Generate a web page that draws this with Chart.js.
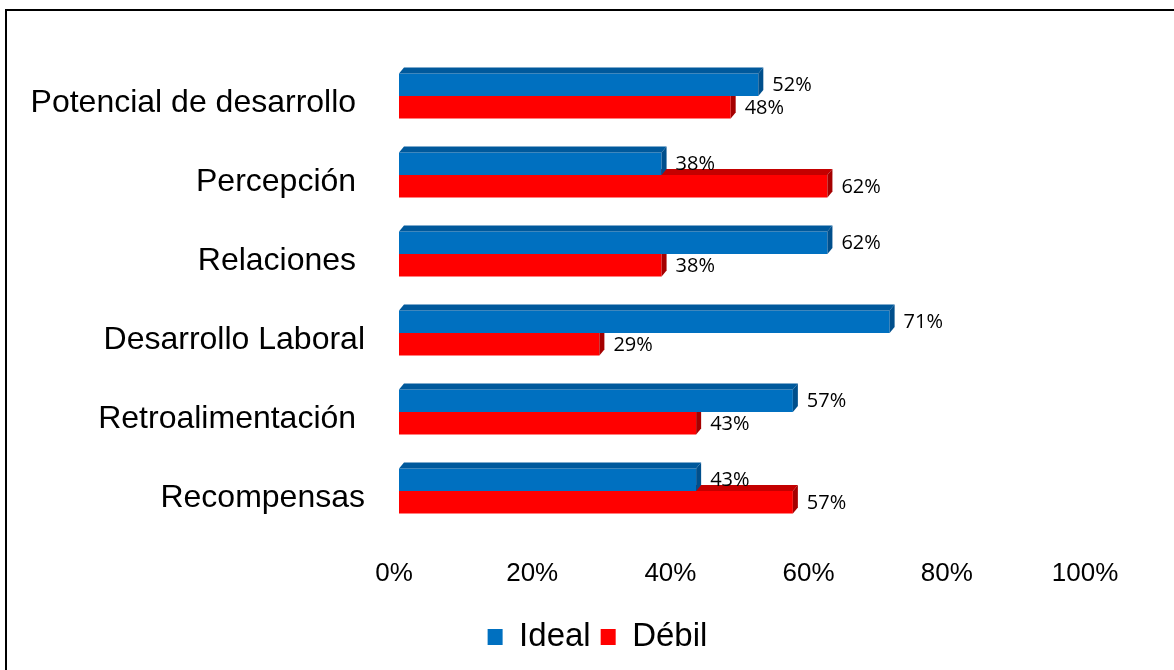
<!DOCTYPE html>
<html lang="es">
<head>
<meta charset="UTF-8">
<title>Ideal vs Débil</title>
<script src="https://cdn.jsdelivr.net/npm/chart.js"></script>
<style>
    html, body { margin: 0; padding: 0; background: #fff; overflow: hidden; }
    .marco {
        position: absolute; left: 5px; top: 9px;
        width: 1300px; height: 800px;
        border: 2px solid #000;
    }
    .contenedor { position: absolute; left: 0; top: 0; width: 1174px; height: 670px; }
</style>
</head>
<body>
<div class="marco"></div>
<div class="contenedor"><canvas id="grafico"></canvas></div>
<script>
    // categorias (los espacios finales vienen de la hoja original)
    var categorias = ['Potencial de desarrollo ', 'Percepción ', 'Relaciones ', 'Desarrollo Laboral', 'Retroalimentación ', 'Recompensas'];
    var ideal = [52, 38, 62, 71, 57, 43];
    var debil = [48, 62, 38, 29, 43, 57];
    var ticksX = [0, 20, 40, 60, 80, 100];

    // profundidad del efecto 3D
    var profX = 5, profY = -6;

    // caras superior y lateral de cada barra
    var barras3d = {
        id: 'barras3d',
        afterDatasetDraw(chart, args) {
            var ctx = chart.ctx;
            var ds = chart.data.datasets[args.index];
            ctx.save();
            args.meta.data.forEach(function (barra) {
                var p = barra.getProps(['x', 'y', 'base', 'height'], true);
                var arriba = p.y - p.height / 2, abajo = p.y + p.height / 2;
                ctx.fillStyle = ds.colorSuperior;
                ctx.beginPath();
                ctx.moveTo(p.base, arriba);
                ctx.lineTo(p.base + profX, arriba + profY);
                ctx.lineTo(p.x + profX, arriba + profY);
                ctx.lineTo(p.x, arriba);
                ctx.closePath();
                ctx.fill();
                ctx.fillStyle = ds.colorLateral;
                ctx.beginPath();
                ctx.moveTo(p.x, arriba);
                ctx.lineTo(p.x + profX, arriba + profY);
                ctx.lineTo(p.x + profX, abajo + profY);
                ctx.lineTo(p.x, abajo);
                ctx.closePath();
                ctx.fill();
            });
            ctx.restore();
        }
    };

    // porcentajes al final de cada barra
    var etiquetas = {
        id: 'etiquetas',
        afterDatasetsDraw(chart) {
            var ctx = chart.ctx;
            ctx.save();
            ctx.font = '20px "Open Sans"';
            ctx.fillStyle = '#000';
            ctx.textAlign = 'left';
            ctx.textBaseline = 'middle';
            chart.data.datasets.forEach(function (ds, i) {
                chart.getDatasetMeta(i).data.forEach(function (barra, j) {
                    ctx.fillText(ds.data[j] + '%', barra.x + 14, barra.y + 1);
                });
            });
            ctx.restore();
        }
    };

    // la leyenda va centrada un poco a la derecha, bajo las barras
    var leyendaCorrida = {
        id: 'leyendaCorrida',
        afterLayout(chart) {
            if (chart.legend) chart.legend.left = 105;
        }
    };

    var grafico = new Chart(document.getElementById('grafico'), {
        type: 'bar',
        data: {
            labels: categorias,
            datasets: [
                {
                    label: 'Ideal',
                    data: ideal,
                    backgroundColor: '#0070C0',
                    colorSuperior: '#00599C',
                    colorLateral: '#004F8C'
                },
                {
                    label: 'Débil',
                    data: debil,
                    backgroundColor: '#FF0000',
                    colorSuperior: '#C40000',
                    colorLateral: '#A50000'
                }
            ]
        },
        plugins: [barras3d, etiquetas, leyendaCorrida],
        options: {
            indexAxis: 'y',
            responsive: true,
            maintainAspectRatio: false,
            animation: false,
            categoryPercentage: 0.57,
            barPercentage: 1,
            layout: {
                padding: { top: 56.5, right: 84, bottom: 6.5, left: 0 }
            },
            plugins: {
                tooltip: { enabled: false },
                legend: {
                    position: 'bottom',
                    labels: {
                        color: '#000',
                        font: { family: '"Liberation Sans", Arial', size: 33 },
                        boxWidth: 15,
                        boxHeight: 16,
                        padding: 10
                    }
                }
            },
            scales: {
                x: {
                    min: 0,
                    max: 100,
                    afterBuildTicks: function (escala) {
                        escala.ticks = ticksX.map(function (v) { return { value: v }; });
                    },
                    afterFit: function (escala) { escala.height = 80; },
                    grid: { display: false, drawTicks: false },
                    border: { display: false },
                    ticks: {
                        color: '#000',
                        font: { family: '"Liberation Sans", Arial', size: 26 },
                        padding: 28,
                        labelOffset: -5,
                        callback: function (v) { return v + '%'; }
                    }
                },
                y: {
                    afterFit: function (escala) { escala.width = 399; },
                    grid: { display: false, drawTicks: false },
                    border: { display: false },
                    ticks: {
                        color: '#000',
                        font: { family: '"Liberation Sans", Arial', size: 32 },
                        padding: 34,
                        labelOffset: 7
                    }
                }
            }
        }
    });
</script>
</body>
</html>
